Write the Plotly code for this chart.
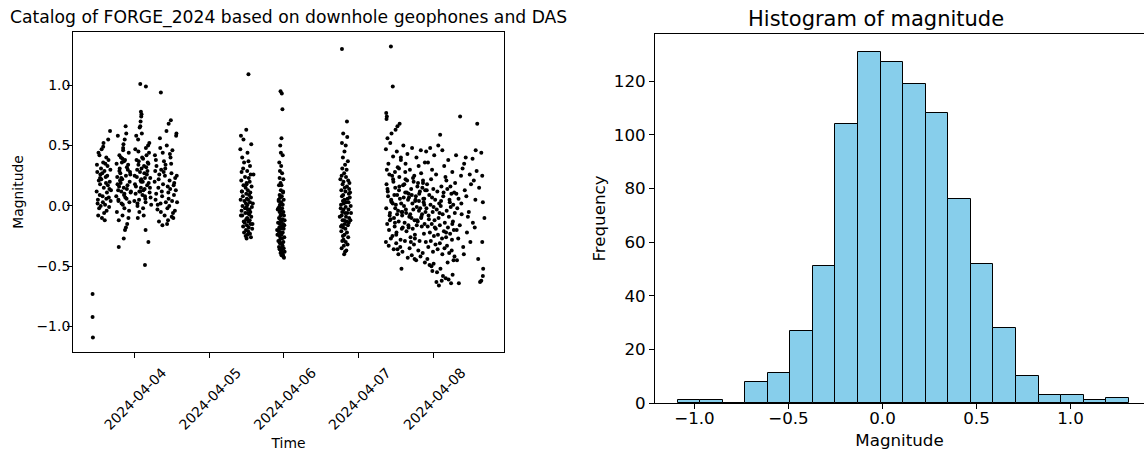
import numpy as np
import pandas as pd
import plotly.graph_objects as go

# ---------------- data: event catalogue (hours after 2024-04-03 00:00, magnitude) ----------------
early_hours = [10.6, 10.6, 10.7]
early_mag = [-0.73, -0.92, -1.09]

a1_hours = [11.9, 12.1, 12.3, 12.0, 12.6, 12.4, 12.8, 13.0, 12.2, 13.3,
            13.1, 12.7, 13.5, 13.8, 13.4, 13.6, 14.0, 14.2, 13.9, 14.4,
            14.1, 14.6, 14.8, 14.3, 15.0, 15.2, 14.9, 15.4, 15.1, 15.6,
            15.8, 15.3, 16.0, 16.2, 15.7, 16.4, 16.1, 12.5, 13.2, 13.7,
            14.5, 15.5, 16.3, 12.9, 14.7, 15.9, 13.0, 14.0, 15.0, 16.5]
a1_mag = [0.12, 0.28, 0.05, 0.34, 0.21, -0.08, 0.42, 0.18, 0.02, 0.31,
          0.26, -0.02, 0.47, 0.08, 0.22, -0.10, 0.36, 0.15, 0.03, 0.29,
          0.52, 0.01, 0.24, -0.06, 0.40, 0.11, 0.19, 0.33, -0.04, 0.55,
          0.07, 0.25, 0.14, 0.62, 0.38, 0.04, 0.20, 0.44, 0.00, 0.27,
          -0.12, 0.17, 0.30, 0.09, 0.35, -0.01, 0.23, 0.49, 0.06, 0.13]

a2_hours = [18.3, 18.6, 18.9, 19.2, 18.4, 19.5, 19.8, 18.7, 20.1, 19.0,
            20.4, 19.3, 20.7, 19.6, 21.0, 19.9, 21.3, 20.2, 21.6, 20.5,
            21.9, 20.8, 22.2, 21.1, 22.5, 21.4, 22.8, 21.7, 18.5, 22.0,
            19.1, 22.3, 19.7, 22.6, 20.3, 18.8, 20.9, 19.4, 21.5, 20.0,
            22.1, 20.6, 22.7, 21.2, 18.2, 21.8, 19.2, 22.4, 20.4, 21.0,
            19.8, 20.8, 21.6, 22.9, 18.9, 20.2, 21.3, 19.0, 20.6, 20.7]
a2_mag = [0.35, 0.18, 0.05, 0.42, -0.05, 0.27, 0.12, 0.58, 0.22, -0.12,
          0.46, 0.31, 0.09, 0.19, 0.38, 0.02, 0.25, -0.08, 0.14, 0.51,
          0.30, -0.02, 0.44, 0.07, 0.20, 0.60, 0.11, -0.15, 0.24, 0.34,
          0.16, -0.04, 0.40, 0.28, 0.01, 0.13, 0.55, 0.21, 0.06, 0.36,
          -0.10, 0.15, 0.26, 0.66, 0.08, 0.17, 0.29, 0.03, 0.48, -0.20,
          0.23, 0.10, 0.32, 0.12, 0.04, 0.39, -0.18, -0.34, -0.27, 0.37]

a3_hours = [24.1, 24.4, 24.7, 25.0, 24.2, 25.3, 25.6, 24.9, 25.9, 25.2,
            26.2, 25.5, 26.5, 25.8, 26.8, 26.1, 27.1, 26.4, 27.4, 26.7,
            27.7, 27.0, 28.0, 27.3, 28.3, 27.6, 28.6, 27.9, 28.9, 28.2,
            29.2, 28.5, 24.5, 28.8, 25.1, 29.1, 25.7, 29.4, 26.3, 24.3,
            26.9, 24.8, 27.5, 25.4, 28.1, 26.0, 28.7, 26.6, 24.6, 27.2,
            25.0, 27.8, 25.6, 28.4, 26.2, 29.0, 26.8, 24.0, 27.4, 25.3,
            26.0, 26.1, 26.2, 25.9, 26.3, 25.9, 27.7, 27.4, 28.5, 27.6]
a3_mag = [0.25, 0.10, 0.38, 0.02, 0.18, 0.45, -0.05, 0.30, 0.12, 0.55,
          0.22, 0.05, 0.40, 0.28, -0.02, 0.15, 0.33, 0.60, 0.08, 0.20,
          0.48, -0.08, 0.26, 0.14, 0.36, 0.03, 0.19, 0.42, 0.11, 0.29,
          0.07, 0.35, 0.16, 0.52, -0.10, 0.23, 0.65, 0.01, 0.31, 0.47,
          0.13, 0.24, 0.06, 0.37, 0.17, 0.21, 0.44, 0.09, 0.58, 0.27,
          0.00, 0.32, 0.12, 0.50, 0.20, 0.15, 0.39, 0.04, 0.23, 0.34,
          0.70, 0.78, 0.74, 0.66, 0.76, 1.01, 0.99, -0.49, -0.30, -0.20]

a4_hours = [30.5, 30.8, 31.1, 31.4, 30.6, 31.7, 32.0, 31.0, 32.3, 31.5,
            32.6, 31.8, 32.9, 32.2, 33.2, 32.5, 33.5, 32.8, 33.8, 33.1,
            34.1, 33.4, 34.4, 33.7, 34.7, 34.0, 35.0, 34.3, 35.3, 34.6,
            35.6, 34.9, 35.9, 35.2, 36.2, 35.5, 36.5, 35.8, 36.8, 36.1,
            37.1, 36.4, 37.4, 36.7, 37.7, 37.0, 37.3, 30.9, 31.9, 32.4,
            33.0, 33.9, 34.8, 35.7, 36.6, 37.5, 32.5, 35.0, 30.7, 36.0,
            37.6, 34.5, 35.4]
a4_mag = [0.20, 0.05, 0.33, -0.03, 0.42, 0.15, 0.26, 0.10, 0.48, 0.01,
          0.30, 0.22, 0.08, 0.56, 0.18, -0.05, 0.37, 0.12, 0.25, 0.44,
          0.03, 0.28, 0.50, -0.08, 0.16, 0.34, 0.06, 0.62, 0.21, -0.02,
          0.40, 0.11, 0.27, 0.00, 0.46, 0.14, -0.10, 0.35, 0.19, 0.04,
          0.23, -0.06, 0.58, 0.09, 0.03, -0.04, 0.13, 0.38, -0.13, 0.02,
          -0.16, 0.31, -0.12, 0.71, 0.17, 0.60, 0.94, 0.68, 0.29, -0.09,
          0.25, -0.15, 0.43]

b_hours = [59.9, 58.2, 61.5, 58.0, 60.3, 58.6, 60.6, 59.2, 61.1, 58.9,
           60.2, 58.4, 61.3, 59.5, 60.7, 58.3, 61.0, 60.0, 59.0, 61.6,
           59.7, 60.4, 58.5, 61.2, 59.9, 60.8, 58.8, 61.4, 60.1, 58.1,
           60.5, 59.3, 61.1, 59.8, 60.3, 58.7, 61.7, 60.0, 59.5, 60.9,
           58.4, 61.2, 60.4, 59.6, 60.8, 58.6, 61.5, 60.2, 59.9, 61.0,
           59.1, 60.6, 59.4, 61.3, 60.1, 58.9, 60.7, 61.8, 59.8, 60.5,
           59.2, 61.1, 60.3, 59.7, 61.4, 60.0, 60.0, 62.0, 58.2, 62.2,
           58.5, 61.9, 60.6, 59.0, 60.4]
b_mag = [0.63, 0.58, 0.51, 0.47, 0.44, 0.40, 0.37, 0.36, 0.33, 0.31,
         0.29, 0.28, 0.26, 0.24, 0.23, 0.21, 0.20, 0.19, 0.17, 0.16,
         0.15, 0.13, 0.12, 0.11, 0.10, 0.09, 0.08, 0.07, 0.06, 0.05,
         0.05, 0.04, 0.03, 0.02, 0.01, 0.00, -0.01, -0.01, -0.02, -0.03,
         -0.04, -0.05, -0.06, -0.06, -0.07, -0.08, -0.09, -0.10, -0.11, -0.12,
         -0.13, -0.13, -0.14, -0.15, -0.16, -0.17, -0.18, -0.19, -0.20, -0.21,
         -0.22, -0.23, -0.24, -0.25, -0.26, -0.27, 0.18, 0.02, -0.08, 0.26,
         0.12, -0.15, 1.09, 0.55, -0.03]

c_hours = [70.9, 71.3, 71.5, 71.2, 70.8, 71.0, 71.6, 70.5, 71.1, 70.7,
           71.4, 70.6, 71.8, 70.9, 71.2, 70.4, 71.0, 71.7, 70.6, 71.3,
           70.8, 71.9, 70.3, 71.1, 70.7, 71.6, 70.5, 71.4, 70.2, 71.0,
           71.8, 70.6, 71.2, 70.9, 72.0, 70.4, 71.5, 70.8, 71.1, 70.1,
           71.7, 70.7, 71.3, 70.5, 71.9, 71.0, 70.3, 71.6, 70.8, 71.2,
           70.6, 72.1, 70.9, 71.4, 70.2, 71.8, 71.1, 70.7, 71.5, 70.4,
           71.3, 71.9, 70.6, 71.0, 72.2, 70.9, 71.6, 71.2, 71.8, 72.0,
           70.0, 72.1, 69.9, 71.5, 70.3, 72.2, 69.8, 71.4, 70.5, 71.7]
c_mag = [0.95, 0.93, 0.80, 0.56, 0.50, 0.44, 0.42, 0.36, 0.33, 0.29,
         0.27, 0.23, 0.22, 0.19, 0.17, 0.17, 0.13, 0.12, 0.09, 0.08,
         0.07, 0.05, 0.05, 0.03, 0.01, 0.01, -0.01, -0.02, -0.02, -0.04,
         -0.05, -0.05, -0.07, -0.08, -0.08, -0.10, -0.11, -0.11, -0.13, -0.14,
         -0.15, -0.15, -0.17, -0.18, -0.19, -0.19, -0.21, -0.22, -0.22, -0.24,
         -0.25, -0.26, -0.27, -0.27, -0.29, -0.30, -0.31, -0.31, -0.33, -0.34,
         -0.35, -0.35, -0.36, -0.37, -0.38, -0.39, -0.40, -0.41, -0.42, -0.43,
         -0.03, -0.16, -0.24, -0.33, 0.04, -0.12, -0.20, -0.38, -0.29, 0.11]

d_hours = [90.6, 92.2, 91.0, 92.3, 90.6, 91.8, 91.4, 90.9, 92.5, 91.6,
           90.7, 92.1, 91.3, 90.5, 91.9, 92.6, 91.1, 90.8, 92.2, 91.5,
           90.4, 91.7, 92.8, 91.0, 90.6, 92.4, 91.4, 90.9, 92.0, 91.2,
           90.3, 91.8, 92.7, 91.1, 90.7, 92.3, 91.6, 90.5, 91.9, 92.9,
           91.3, 90.8, 92.1, 91.5, 90.6, 92.5, 91.0, 91.7, 90.4, 92.2,
           91.4, 90.9, 92.6, 91.1, 90.7, 91.8, 92.4, 91.2, 90.5, 92.0,
           91.6, 91.3, 93.1, 90.2, 92.9, 93.3, 90.1, 93.5, 92.7, 90.3,
           93.2, 89.9, 93.0, 93.4, 92.8]
d_mag = [1.30, 0.70, 0.60, 0.57, 0.52, 0.50, 0.45, 0.40, 0.37, 0.34,
         0.31, 0.30, 0.27, 0.25, 0.24, 0.21, 0.20, 0.18, 0.16, 0.15,
         0.13, 0.12, 0.10, 0.09, 0.08, 0.06, 0.05, 0.04, 0.03, 0.02,
         0.01, -0.01, -0.03, -0.03, -0.05, -0.06, -0.06, -0.08, -0.09, -0.10,
         -0.12, -0.12, -0.13, -0.15, -0.16, -0.16, -0.18, -0.19, -0.21, -0.22,
         -0.24, -0.25, -0.26, -0.28, -0.29, -0.30, -0.32, -0.33, -0.35, -0.37,
         -0.38, -0.40, 0.07, -0.02, 0.14, -0.12, 0.22, -0.06, 0.03, -0.17,
         0.11, -0.09, 0.19, 0.00, -0.14]

e_left_hours = [106.3, 106.9, 104.8, 105.0, 104.9, 105.2, 106.5, 107.8, 108.4, 109.1,
                104.7, 105.5, 106.1, 107.0, 107.6, 108.2, 108.9, 109.5, 110.3, 111.0,
                111.6, 112.4, 113.1, 113.8, 114.5, 115.2, 115.9, 116.6, 117.2, 104.9,
                105.3, 105.8, 106.4, 107.1, 107.7, 108.3, 109.0, 109.6, 110.2, 110.9,
                111.5, 112.1, 112.8, 113.4, 114.1, 114.8, 115.4, 116.0, 116.7, 117.3,
                104.8, 105.4, 106.0, 106.6, 107.3, 107.9, 108.6, 109.2, 109.9, 110.5,
                111.1, 111.8, 112.5, 113.2, 113.9, 114.6, 115.3, 116.1, 116.8, 117.4,
                105.1, 105.7, 106.2, 106.8, 107.5, 108.1, 108.8, 109.4, 110.1, 110.7,
                111.3, 111.9, 112.6, 113.3, 114.0, 114.7, 115.5, 116.2, 116.9, 117.1,
                104.7, 105.6, 106.3, 107.2, 108.0, 108.7, 109.3, 110.0, 110.8, 111.7,
                112.3, 113.0, 113.7, 114.4, 115.1, 115.8, 116.5, 117.2, 105.2, 106.7,
                107.4, 108.5, 109.7, 110.6, 111.4, 112.2, 113.6, 114.3, 115.7, 116.4,
                105.9, 106.9, 107.6, 108.9, 109.8, 110.4, 111.2, 112.0, 112.9, 113.5,
                114.2, 114.9, 115.6, 116.3, 117.0, 105.0, 106.0, 107.0, 108.0, 109.0,
                110.0, 111.0, 112.0, 113.0, 114.0, 115.0, 116.0, 117.0, 108.4, 109.7,
                113.9, 109.5, 107.7, 112.7, 115.3, 110.9, 114.6, 106.4, 116.6, 108.3]
e_left_mag = [1.32, 0.99, 0.77, 0.74, 0.72, 0.56, 0.60, 0.63, 0.66, 0.68,
              0.47, 0.35, 0.52, 0.41, 0.28, 0.45, 0.31, 0.38, 0.50, 0.22,
              0.43, 0.30, 0.48, 0.25, 0.40, 0.33, 0.46, 0.19, 0.36, 0.18,
              0.12, 0.26, 0.05, 0.20, 0.15, 0.09, 0.24, 0.02, 0.17, 0.11,
              0.21, 0.07, 0.14, 0.23, 0.04, 0.16, 0.10, 0.27, 0.06, 0.13,
              -0.02, 0.08, -0.06, 0.03, -0.10, 0.01, -0.04, 0.06, -0.08, 0.00,
              -0.03, 0.05, -0.07, 0.02, -0.12, -0.01, 0.04, -0.09, 0.03, -0.05,
              -0.15, -0.20, -0.11, -0.25, -0.17, -0.22, -0.13, -0.28, -0.18, -0.14,
              -0.21, -0.16, -0.26, -0.19, -0.24, -0.12, -0.29, -0.17, -0.23, -0.15,
              -0.30, -0.33, -0.27, -0.36, -0.31, -0.40, -0.34, -0.38, -0.29, -0.43,
              -0.35, -0.41, -0.32, -0.45, -0.37, -0.42, -0.39, -0.47, 0.14, 0.25,
              0.09, 0.32, -0.05, 0.18, 0.11, -0.09, 0.20, 0.08, -0.02, 0.15,
              -0.08, 0.02, -0.14, 0.13, -0.19, 0.07, -0.06, 0.10, -0.10, -0.03,
              0.05, -0.13, 0.12, -0.07, 0.01, 0.30, -0.12, 0.22, -0.24, 0.16,
              -0.05, 0.35, -0.18, 0.09, -0.27, 0.19, -0.10, 0.06, -0.36, -0.52,
              -0.44, 0.40, -0.02, -0.30, -0.04, 0.28, -0.16, 0.04, 0.21, -0.07]

e_mid_hours = [117.6, 118.2, 118.9, 119.5, 120.2, 120.8, 121.5, 122.1, 122.8, 123.4,
               124.1, 124.7, 125.4, 126.0, 126.6, 117.9, 118.6, 119.2, 119.9, 120.5,
               121.2, 121.8, 122.5, 123.1, 123.8, 124.4, 125.1, 125.7, 126.3, 126.9,
               117.7, 118.4, 119.0, 119.7, 120.3, 121.0, 121.6, 122.3, 122.9, 123.6,
               124.2, 124.9, 125.5, 126.2, 126.8, 118.1, 118.8, 119.4, 120.1, 120.7,
               121.4, 122.0, 122.7, 123.3, 124.0, 124.6, 125.3, 125.9, 126.5, 117.5,
               118.3, 119.1, 119.8, 120.6, 121.3, 122.0, 122.8, 123.5, 124.3, 125.0,
               125.8, 126.7, 118.0, 120.0, 122.2, 124.5, 126.4, 119.3, 121.1, 123.0,
               124.8, 120.9, 122.6, 121.7, 123.9, 125.6, 119.6, 118.7, 126.1, 122.4,
               118.5, 119.5, 120.4, 121.9, 123.2, 124.0, 125.2, 126.0, 117.8, 120.0]
e_mid_mag = [0.45, 0.36, 0.48, 0.30, 0.42, 0.26, 0.50, 0.59, 0.46, 0.33,
             0.21, 0.38, 0.16, 0.28, 0.11, 0.18, 0.09, 0.22, 0.14, 0.05,
             0.12, 0.02, 0.16, 0.08, 0.24, 0.14, 0.05, 0.10, 0.01, 0.19,
             -0.02, -0.08, 0.01, -0.05, -0.12, -0.03, -0.10, 0.00, -0.07, -0.14,
             -0.04, -0.09, -0.01, -0.13, -0.06, -0.17, -0.22, -0.15, -0.25, -0.19,
             -0.24, -0.16, -0.27, -0.21, -0.26, -0.18, -0.23, -0.28, -0.20, -0.30,
             -0.34, -0.29, -0.38, -0.32, -0.36, -0.31, -0.40, -0.35, -0.33, -0.39,
             -0.37, -0.42, -0.44, -0.48, -0.52, -0.47, -0.45, -0.50, -0.55, -0.58,
             -0.61, -0.63, -0.62, -0.66, -0.60, -0.64, -0.54, -0.49, -0.57, 0.04,
             -0.11, 0.07, -0.18, -0.06, 0.11, -0.22, 0.03, -0.15, 0.13, -0.01]

e_right_hours = [128.5, 134.0, 127.2, 130.3, 132.5, 133.5, 135.3, 128.8, 131.6, 135.6,
                 133.4, 135.8, 132.6, 133.2, 131.8, 135.6, 134.3, 135.9, 135.8, 135.3,
                 134.9, 128.1, 127.3, 128.0, 127.6, 129.0, 128.4, 127.9, 129.5, 127.4,
                 130.0, 131.0, 129.3, 132.0, 130.7, 128.9, 133.8, 131.3, 129.7, 134.6,
                 127.5, 130.5, 136.3, 129.8, 132.9]
e_right_mag = [0.74, 0.68, 0.42, 0.40, 0.39, 0.46, 0.44, 0.25, 0.26, 0.25,
               0.05, 0.03, -0.14, -0.18, -0.30, -0.30, -0.44, -0.52, -0.58, -0.62,
               -0.63, -0.64, 0.10, 0.06, -0.02, -0.07, -0.16, -0.27, -0.34, -0.20,
               0.13, -0.09, 0.31, 0.18, -0.22, 0.02, 0.29, -0.05, -0.40, 0.15,
               -0.45, 0.08, -0.10, 0.35, 0.21]

# ---------------- data: histogram of magnitude ----------------
hist_mag_min = -1.09
hist_mag_max = 1.31
hist_counts = [1, 1, 0, 8, 11, 27, 51, 104, 131, 127,
               119, 108, 76, 52, 28, 10, 3, 3, 1, 2]

time_ticks = ["2024-04-04", "2024-04-05", "2024-04-06", "2024-04-07", "2024-04-08"]
mag_ticks = [-1.0, -0.5, 0.0, 0.5, 1.0]
freq_ticks = [0, 20, 40, 60, 80, 100, 120]

# ---------------- assemble ----------------
groups = [(early_hours, early_mag), (a1_hours, a1_mag), (a2_hours, a2_mag),
          (a3_hours, a3_mag), (a4_hours, a4_mag), (b_hours, b_mag),
          (c_hours, c_mag), (d_hours, d_mag), (e_left_hours, e_left_mag),
          (e_mid_hours, e_mid_mag), (e_right_hours, e_right_mag)]
hours, mags = [], []
for h, m in groups:
    assert len(h) == len(m), (len(h), len(m))
    hours += h
    mags += m
hours = np.array(hours)
mags = np.array(mags)
base = pd.Timestamp("2024-04-03")
times = base + pd.to_timedelta(hours, unit="h")

# matplotlib-like 5% data margins
t0, t1 = times.min(), times.max()
tpad = (t1 - t0) * 0.05
m0, m1 = mags.min(), mags.max()
mpad = (m1 - m0) * 0.05

edges = np.linspace(hist_mag_min, hist_mag_max, len(hist_counts) + 1)
centers = (edges[:-1] + edges[1:]) / 2
widths = np.diff(edges)
hpad = (hist_mag_max - hist_mag_min) * 0.05

W, H = 1144, 453
FONT = "DejaVu Sans"

fig = go.Figure()
fig.add_trace(go.Scatter(
    x=times, y=mags, mode="markers",
    marker=dict(color="black", size=4, line=dict(width=0)),
    xaxis="x", yaxis="y", showlegend=False,
))
fig.add_trace(go.Bar(
    x=centers, y=hist_counts, width=widths,
    marker=dict(color="#87CEEB", line=dict(color="black", width=1)),
    xaxis="x2", yaxis="y2", showlegend=False,
))

axis_common = dict(showline=True, linecolor="black", linewidth=1, mirror=True,
                   ticks="outside", ticklen=5, tickwidth=1, tickcolor="black",
                   showgrid=False, zeroline=False, automargin=False)

fig.update_layout(
    width=W, height=H,
    margin=dict(l=0, r=0, t=0, b=0),
    paper_bgcolor="white", plot_bgcolor="white",
    font=dict(family=FONT, color="black"),
    bargap=0,
    xaxis=dict(domain=[73 / W, 504 / W], type="date",
               range=[t0 - tpad, t1 + tpad],
               tickvals=[pd.Timestamp(t) for t in time_ticks], ticktext=time_ticks,
               tickangle=-45, tickfont=dict(size=13.9),
               ticklabelshift=28, ticklabelstandoff=1,
               title=dict(text="Time", font=dict(size=13.9), standoff=6),
               anchor="y", **axis_common),
    yaxis=dict(domain=[1 - 352 / H, 1 - 32 / H],
               range=[m0 - mpad, m1 + mpad],
               tickvals=mag_ticks, tickformat=".1f", tickfont=dict(size=13.9),
               ticklabelstandoff=-6,
               title=dict(text="Magnitude", font=dict(size=13.9), standoff=9),
               anchor="x", **axis_common),
    xaxis2=dict(domain=[655 / W, 1.0],
                range=[hist_mag_min - hpad, hist_mag_min - hpad + 489 / 188],
                tickvals=mag_ticks, tickformat=".1f", tickfont=dict(size=16.7),
                ticklabelstandoff=-5,
                title=dict(text="Magnitude", font=dict(size=16.7), standoff=7),
                anchor="y2", **axis_common),
    yaxis2=dict(domain=[1 - 403 / H, 1 - 34 / H],
                range=[0, max(hist_counts) * 1.05],
                tickvals=freq_ticks, tickfont=dict(size=16.7),
                title=dict(text="Frequency", font=dict(size=16.7), standoff=3),
                anchor="x2", **axis_common),
    annotations=[
        dict(text="Catalog of FORGE_2024 based on downhole geophones and DAS",
             x=288.5 / W, y=1 - 18 / H, xref="paper", yref="paper",
             xanchor="center", yanchor="middle", showarrow=False,
             font=dict(size=17.2, family=FONT, color="black")),
        dict(text="Histogram of magnitude",
             x=876 / W, y=1 - 19 / H, xref="paper", yref="paper",
             xanchor="center", yanchor="middle", showarrow=False,
             font=dict(size=21, family=FONT, color="black")),
    ],
)

fig.write_html("out.html", config={"displayModeBar": False},
               post_script="document.body.style.margin='0px';")
